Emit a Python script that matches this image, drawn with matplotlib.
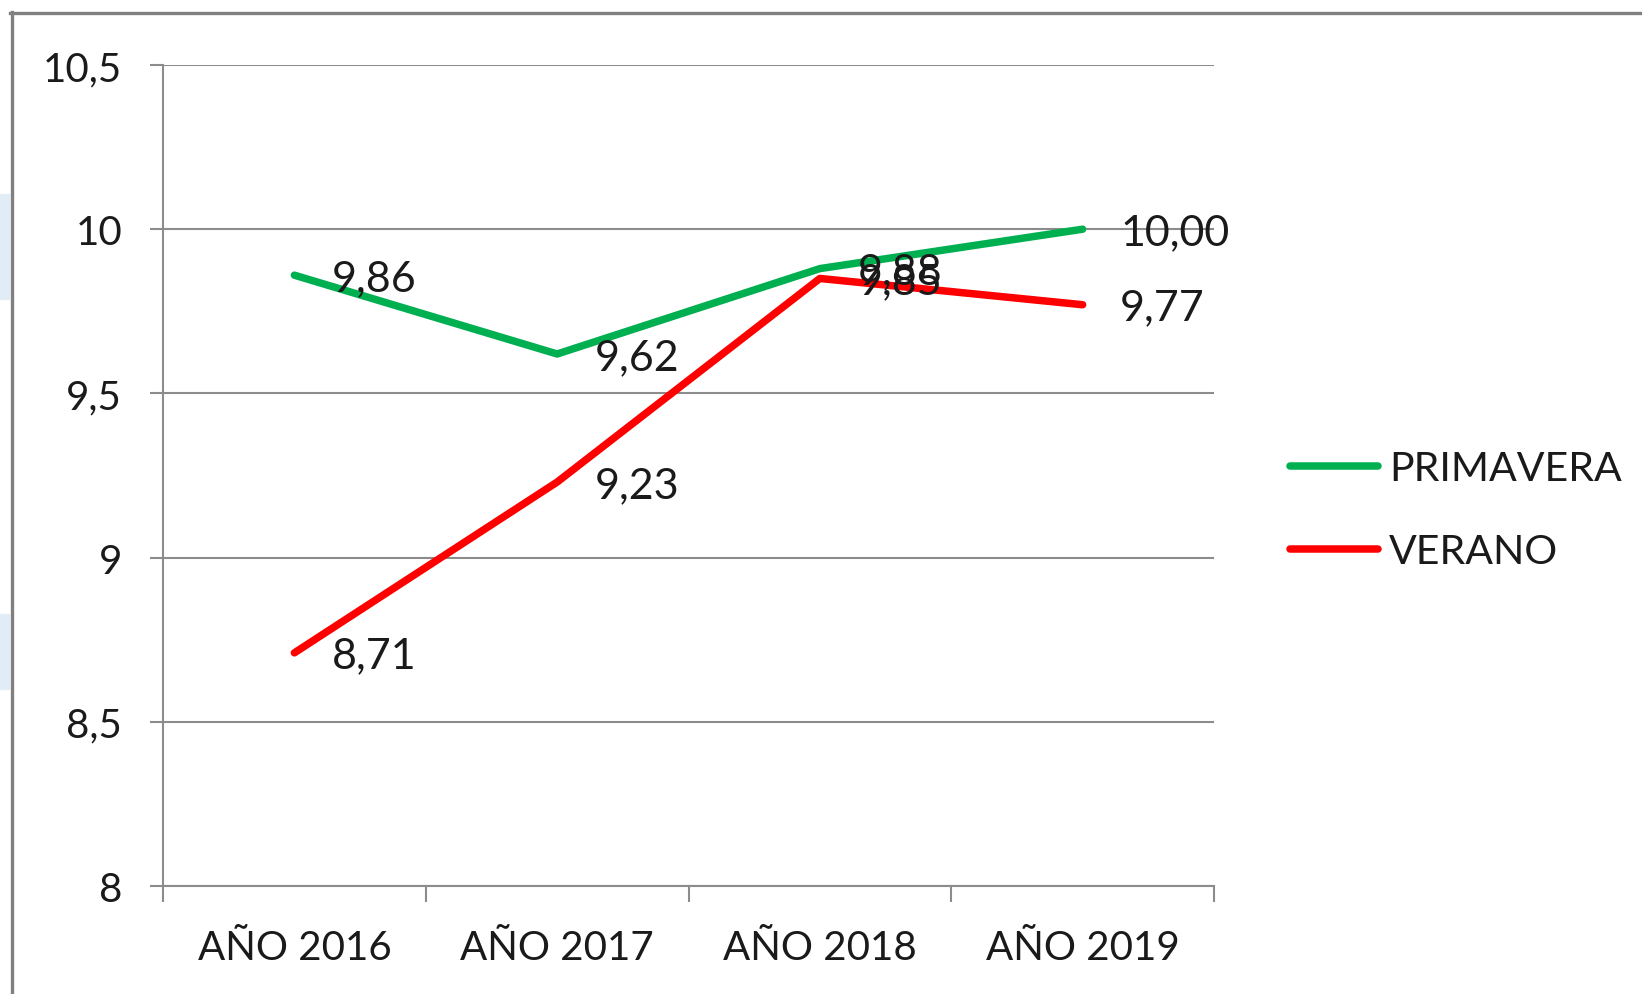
import matplotlib
matplotlib.use("Agg")
import matplotlib.pyplot as plt
from matplotlib.lines import Line2D
from matplotlib.patches import Rectangle

categories = ["AÑO 2016", "AÑO 2017", "AÑO 2018", "AÑO 2019"]
primavera = [9.86, 9.62, 9.88, 10.00]
verano = [8.71, 9.23, 9.85, 9.77]
series_names = ["PRIMAVERA", "VERANO"]
y_ticks = [8, 8.5, 9, 9.5, 10, 10.5]
y_tick_labels = ["8", "8,5", "9", "9,5", "10", "10,5"]

plt.rcParams['font.family'] = ['Lato', 'DejaVu Sans']
FS = 29
LFS = 31
LEGFS = 29.5
LW = 5.4
W, H = 1642, 995
fig = plt.figure(figsize=(W / 100, H / 100), dpi=100)
fig.patch.set_facecolor("white")

# faint background artifacts on the left edge + chart frame
for (y0, y1) in [(695, 800), (305, 380)]:
    fig.patches.append(Rectangle((0, y0 / H), 9 / W, (y1 - y0) / H,
                                 transform=fig.transFigure, color="#e2ecf6", zorder=0))
fig.add_artist(Line2D([11.5 / W, 11.5 / W], [0, 1 - 13 / H], transform=fig.transFigure,
                      color="#808080", lw=2.4))
fig.add_artist(Line2D([10 / W, 1], [1 - 14 / H, 1 - 14 / H], transform=fig.transFigure,
                      color="#808080", lw=2.4))

ax = fig.add_axes([163 / W, 1 - 887 / H, (1214 - 163) / W, (887 - 66) / H])
x = list(range(len(categories)))
green, red = "#00B050", "#FF0000"
ax.plot(x, primavera, color=green, lw=LW, solid_capstyle="round", zorder=3, label=series_names[0])
ax.plot(x, verano, color=red, lw=LW, solid_capstyle="round", zorder=3, label=series_names[1])

for xs, vals in [(x, primavera), (x, verano)]:
    for xi, v in zip(xs, vals):
        ax.annotate(f"{v:.2f}".replace(".", ","), (xi, v), xytext=(27, -2),
                    textcoords="offset points", ha="left", va="center",
                    fontsize=LFS, color="#1a1a1a", zorder=4)

ax.set_xlim(-0.5, len(categories) - 0.5)
ax.set_ylim(8, 10.5)
ax.set_yticks(y_ticks)
ax.set_yticklabels(y_tick_labels)
ax.set_xticks(x)
ax.set_xticklabels(categories)
ax.set_xticks([i - 0.5 for i in range(len(categories) + 1)], minor=True)

grid_c = "#8c8c8c"
ax.grid(axis="y", color=grid_c, lw=1.5, zorder=1)
for s in ["top", "right"]:
    ax.spines[s].set_visible(False)
ax.spines["left"].set_color(grid_c)
ax.spines["left"].set_linewidth(1.5)
ax.spines["bottom"].set_color(grid_c)
ax.spines["bottom"].set_linewidth(1.5)

ax.tick_params(axis="y", length=9.5, width=1.5, color=grid_c, labelsize=FS,
               labelcolor="#1a1a1a", pad=20)
ax.tick_params(axis="x", which="major", length=0, labelsize=FS, labelcolor="#1a1a1a", pad=31)
ax.tick_params(axis="x", which="minor", length=11.5, width=1.5, color=grid_c)

handles = [Line2D([], [], color=green, lw=LW, solid_capstyle="round"),
           Line2D([], [], color=red, lw=LW, solid_capstyle="round")]
fig.legend(handles, series_names, loc="center left", bbox_to_anchor=(1290 / W, 1 - 511 / H),
           frameon=False, fontsize=LEGFS, handlelength=2.15, handletextpad=0.27,
           labelspacing=1.12, labelcolor="#1a1a1a", borderpad=0, borderaxespad=0)

fig.savefig("out.png", dpi=100, facecolor="white")
